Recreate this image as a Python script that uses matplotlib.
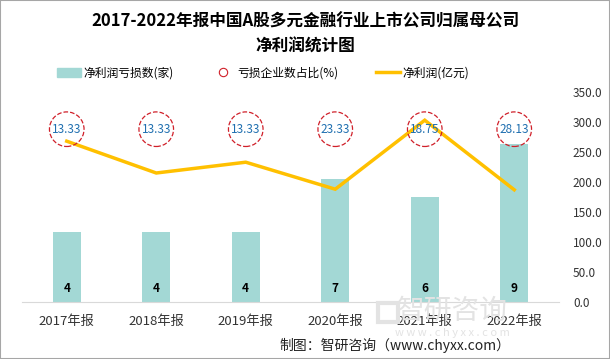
import matplotlib.pyplot as plt
import matplotlib.patches as mpatches
from matplotlib.lines import Line2D

plt.rcParams['font.family'] = ['Noto Sans CJK SC', 'DejaVu Sans']

years = ['2017年报', '2018年报', '2019年报', '2020年报', '2021年报', '2022年报']
loss_count = [4, 4, 4, 7, 6, 9]
loss_ratio = [13.33, 13.33, 13.33, 23.33, 18.75, 28.13]
net_profit = [268, 215, 233, 188, 303, 187]

BAR_C = '#a3d8d5'
LINE_C = '#ffc000'
RED = '#d0202a'
BLUE = '#1f6fb0'

W, H = 610, 359
fig = plt.figure(figsize=(W / 100, H / 100), dpi=100)

# outer border
fig.patches.append(mpatches.Rectangle((0, 0), 1, 1, transform=fig.transFigure,
                                      fill=False, edgecolor='#a6a6a6', lw=1.5))

# watermark (behind the chart)
fig.patches.append(mpatches.Rectangle((378 / W, 1 - 322 / H), 20 / W, 19 / H,
                                      transform=fig.transFigure, fill=False,
                                      edgecolor='#e3e3e3', lw=3, zorder=0))
fig.text(452 / W, 1 - 311 / H, '智研咨询', ha='center', va='center',
         fontsize=20, color='#e3e3e3', zorder=0)
fig.text(452 / W, 1 - 333 / H, 'w w w . c h y x x . c o m', ha='center',
         va='center', fontsize=8, color='#e3e3e3', zorder=0)

ax = fig.add_axes([22 / W, (H - 302) / H, (559 - 22) / W, 210 / H])
ax.patch.set_alpha(0)
x = list(range(len(years)))
ax.bar(x, loss_count, width=0.31, color=BAR_C, zorder=2)
ax.set_ylim(0, 12)
ax.set_xlim(-0.5, 5.5)
ax.set_yticks([])
for s in ['left', 'right', 'top']:
    ax.spines[s].set_visible(False)
ax.spines['bottom'].set_color('#d9d9d9')
ax.set_xticks(x)
ax.set_xticklabels(years, fontsize=9.5, color='#333333')
ax.tick_params(axis='x', length=0, pad=9)
for i, v in enumerate(loss_count):
    ax.text(i, 0.75, str(v), ha='center', va='center', fontsize=8.5,
            fontweight='bold', color='black', zorder=5)

ax2 = ax.twinx()
ax2.set_ylim(0, 350)
ax2.set_yticks([0, 50, 100, 150, 200, 250, 300, 350])
ax2.set_yticklabels([f'{v:.1f}' for v in [0, 50, 100, 150, 200, 250, 300, 350]],
                    fontsize=8.5, color='#333333')
ax2.tick_params(axis='y', length=0, pad=10)
for s in ['left', 'right', 'top', 'bottom']:
    ax2.spines[s].set_visible(False)
ax2.plot(x, net_profit, color=LINE_C, lw=2.5, zorder=3, solid_joinstyle='miter')

circle_y = [288] * len(x)
ax2.scatter(x, circle_y, s=620, facecolors='none', edgecolors=RED,
            linestyles='--', linewidths=0.9, zorder=4)
for i, r in enumerate(loss_ratio):
    ax2.text(i, 288, f'{r:.2f}', ha='center', va='center', fontsize=8.5,
             color=BLUE, zorder=6)

# title
fig.text(0.5, 1 - 22 / H, '2017-2022年报中国A股多元金融行业上市公司归属母公司',
         ha='center', va='center', fontsize=12, fontweight='bold')
fig.text(0.5, 1 - 47 / H, '净利润统计图', ha='center', va='center',
         fontsize=12, fontweight='bold')

# legend
handles = [
    mpatches.Patch(color=BAR_C),
    Line2D([], [], ls='none', marker='o', markersize=6, markerfacecolor='none',
           markeredgecolor=RED, markeredgewidth=0.8),
    Line2D([], [], color=LINE_C, lw=2.5),
]
labels = ['净利润亏损数(家)', '亏损企业数占比(%)', '净利润(亿元)']
fig.legend(handles, labels, loc='center', bbox_to_anchor=(263 / W, 1 - 73 / H),
           ncol=3, frameon=False, fontsize=8.5, columnspacing=3.2,
           handlelength=2.0, handletextpad=0.2)

fig.text(510 / W, 1 - 345 / H, '制图：智研咨询（www.chyxx.com）', ha='right',
         va='center', fontsize=10, color='#222222')

fig.savefig('out.png', dpi=100)
